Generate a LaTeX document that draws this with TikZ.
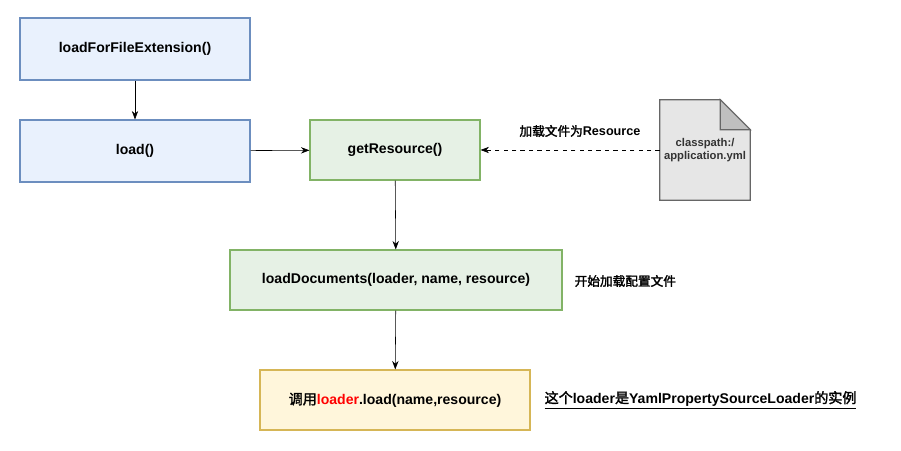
\documentclass[tikz,border=0pt]{standalone}
\usepackage{fontspec}
\setmainfont{Liberation Sans}
\newfontfamily\cjk{Noto Sans CJK SC}[AutoFakeBold=2]
\definecolor{blueFill}{HTML}{DAE8FC}
\definecolor{blueLine}{HTML}{6C8EBF}
\definecolor{greenFill}{HTML}{D5E8D4}
\definecolor{greenLine}{HTML}{82B366}
\definecolor{goldFill}{HTML}{FFF2CC}
\definecolor{goldLine}{HTML}{D6B656}
\definecolor{docFill}{HTML}{E6E6E6}
\usetikzlibrary{arrows.meta}

\begin{document}
\begin{tikzpicture}[x=0.025cm, y=-0.025cm, >={Stealth[length=6pt]},
    box/.style={draw, line width=0.8pt, font=\bfseries, inner sep=0pt},
    bluebox/.style={box, fill=blueFill!60, draw=blueLine, minimum width=5.75cm, minimum height=1.55cm},
    greenbox/.style={box, fill=greenFill!60, draw=greenLine, minimum height=1.5cm},
    note/.style={font=\bfseries\small, inner sep=1pt}]
  \useasboundingbox (0,0) rectangle (901,451);
  \node[bluebox] (EXT) at (135,49) {loadForFileExtension()};
  \node[bluebox] (LOAD) at (135,151) {load()};
  \node[greenbox, minimum width=4.25cm] (GET) at (395,150) {getResource()};
  \node[greenbox, minimum width=8.3cm] (DOCS) at (396,280) {loadDocuments(loader, name, resource)};
  \node[box, fill=goldFill!70, draw=goldLine, minimum width=6.75cm, minimum height=1.5cm]
    (CALL) at (395,400) {{\cjk 调用}\textcolor{red}{loader}.load(name,resource)};
  % resource file
  \node[minimum width=2.25cm, minimum height=2.5cm, inner sep=0pt] (RES) at (705,150) {};
  \draw[draw=black!60, fill=docFill, line width=0.8pt]
    (RES.north west) -- ([xshift=-0.75cm]RES.north east) -- ([yshift=-0.75cm]RES.north east)
    -- (RES.south east) -- (RES.south west) -- cycle;
  \draw[draw=black!60, fill=black!25, line width=0.8pt]
    ([xshift=-0.75cm]RES.north east) -- ([xshift=-0.75cm, yshift=-0.75cm]RES.north east)
    -- ([yshift=-0.75cm]RES.north east) -- cycle;
  \node[font=\bfseries\footnotesize, align=center, text=black!80] (PATH) at (705,150) {classpath:/\\application.yml};
  % connectors
  \draw[->] (EXT) -- (LOAD);
  \draw[->] (LOAD) -- (GET);
  \draw[->, dashed] (RES) -- (GET);
  \draw[->] (GET) -- (DOCS);
  \draw[->] (DOCS) -- (CALL);
  % notes
  \node[note] (NRES) at (580,131) {{\cjk 加载文件为}Resource};
  \node[note, anchor=west] (NDOC) at (573,281) {\cjk 开始加载配置文件};
  \node[note, anchor=west, font=\bfseries] (NCALL) at (543,400)
    {\underline{{\cjk 这个}loader{\cjk 是}YamlPropertySourceLoader{\cjk 的实例}}};
\end{tikzpicture}
\end{document}
